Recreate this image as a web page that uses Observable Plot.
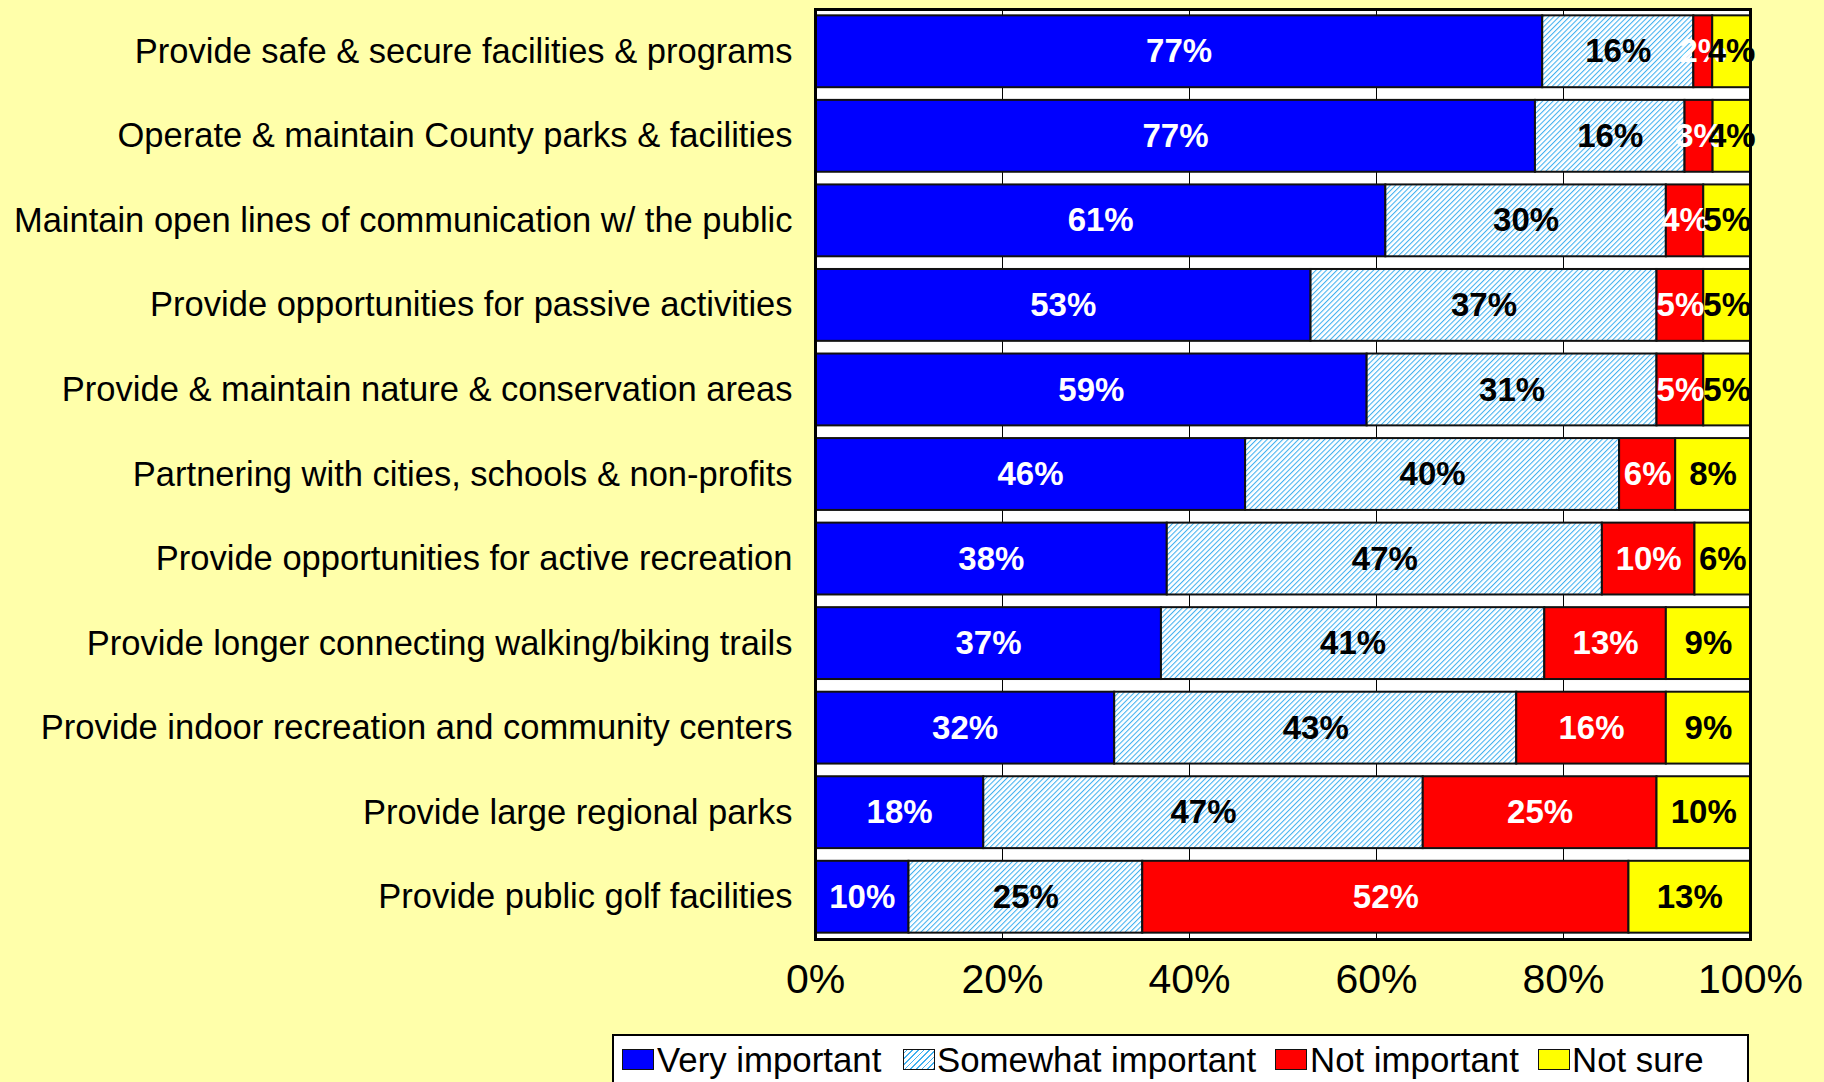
<!DOCTYPE html>
<html>
<head>
<meta charset="utf-8">
<script src="https://cdn.jsdelivr.net/npm/d3@7"></script>
<script src="https://cdn.jsdelivr.net/npm/@observablehq/plot@0.6"></script>
<style>
  html, body { margin: 0; padding: 0; background: #ffffaa; width: 1824px; height: 1082px; overflow: hidden; position: relative; font-family: "Liberation Sans", Arial, Helvetica, sans-serif; }
  #chart svg { display: block; }
  .legend-box { position: absolute; left: 612px; top: 1034px; width: 1133px; height: 70px; background: white; border: 2.5px solid black; }
  .sw { position: absolute; top: 1049px; width: 30px; height: 19px; border: 1.5px solid #111; }
  .lt { position: absolute; top: 1043px; font-size: 34.8px; line-height: 34.8px; color: black; white-space: nowrap; }
</style>
</head>
<body>
<div id="chart"></div>
<script>
const categories = [
  "Provide safe & secure facilities & programs",
  "Operate & maintain County parks & facilities",
  "Maintain open lines of communication w/ the public",
  "Provide opportunities for passive activities",
  "Provide & maintain nature & conservation areas",
  "Partnering with cities, schools & non-profits",
  "Provide opportunities for active recreation",
  "Provide longer connecting walking/biking trails",
  "Provide indoor recreation and community centers",
  "Provide large regional parks",
  "Provide public golf facilities"
];
const seriesNames = ["Very important", "Somewhat important", "Not important", "Not sure"];
const veryImportant     = [77, 77, 61, 53, 59, 46, 38, 37, 32, 18, 10];
const somewhatImportant = [16, 16, 30, 37, 31, 40, 47, 41, 43, 47, 25];
const notImportant      = [ 2,  3,  4,  5,  5,  6, 10, 13, 16, 25, 52];
const notSure           = [ 4,  4,  5,  5,  5,  8,  6,  9,  9, 10, 13];
const xTicks = [0, 0.2, 0.4, 0.6, 0.8, 1];
const seriesColors = ["#0000ff", "url(#hatch)", "#ff0000", "#ffff00"];

const seriesValues = [veryImportant, somewhatImportant, notImportant, notSure];
const data = [];
seriesNames.forEach((s, si) => {
  categories.forEach((c, i) => data.push({category: c, series: s, value: seriesValues[si][i]}));
});

const font = '"Liberation Sans", Arial, Helvetica, sans-serif';

const chart = Plot.plot({
  width: 1824,
  height: 1030,
  marginLeft: 815,
  marginRight: 74,
  marginTop: 9,
  marginBottom: 91,
  style: {background: "transparent", fontFamily: font, overflow: "visible"},
  x: {domain: [0, 1], label: null},
  y: {domain: categories, paddingInner: 0.15, paddingOuter: 0.075, round: false, label: null},
  color: {domain: seriesNames, range: seriesColors},
  marks: [
    Plot.frame({fill: "white"}),
    Plot.gridX(xTicks.slice(1, -1), {stroke: "black", strokeOpacity: 1, strokeWidth: 1}),
    Plot.barX(data, Plot.stackX({
      x: "value", y: "category", fill: "series", z: "series",
      offset: "normalize", order: seriesNames,
      stroke: "#111", strokeWidth: 2, inset: 0
    })),
    Plot.textX(data, Plot.stackX({
      x: "value", y: "category", z: "series",
      offset: "normalize", order: seriesNames,
      text: d => d.value + "%",
      fill: d => (d.series === "Very important" || d.series === "Not important") ? "white" : "black",
      fontSize: 33, fontWeight: "bold"
    })),
    Plot.frame({stroke: "black", strokeWidth: 3}),
    Plot.axisX({ticks: xTicks, tickFormat: d => Math.round(d * 100) + "%", tickSize: 0, tickPadding: 24, fontSize: 41, label: null}),
    Plot.axisY({tickSize: 0, tickPadding: 23, fontSize: 34.5, label: null})
  ]
});

// hatch pattern definition
const svgNS = "http://www.w3.org/2000/svg";
const defs = document.createElementNS(svgNS, "defs");
defs.innerHTML = `<pattern id="hatch" patternUnits="userSpaceOnUse" width="3.7" height="3.7" patternTransform="rotate(45)">
  <rect width="3.7" height="3.7" fill="white"/>
  <line x1="0.5" y1="0" x2="0.5" y2="3.7" stroke="#3fb0f0" stroke-width="1.1"/>
</pattern>`;
chart.insertBefore(defs, chart.firstChild);
document.getElementById("chart").appendChild(chart);

// legend (below the SVG)
const legendItems = [
  {name: seriesNames[0], sw: 622, tx: 657, bg: "#0000ff"},
  {name: seriesNames[1], sw: 903, tx: 937, bg: "repeating-linear-gradient(-45deg, #3fb0f0 0 1px, white 1px 4px)"},
  {name: seriesNames[2], sw: 1275, tx: 1310, bg: "#ff0000"},
  {name: seriesNames[3], sw: 1538, tx: 1572, bg: "#ffff00"}
];
const box = document.createElement("div");
box.className = "legend-box";
document.body.appendChild(box);
legendItems.forEach(it => {
  const s = document.createElement("div");
  s.className = "sw";
  s.style.left = it.sw + "px";
  s.style.background = it.bg;
  document.body.appendChild(s);
  const t = document.createElement("div");
  t.className = "lt";
  t.style.left = it.tx + "px";
  t.textContent = it.name;
  document.body.appendChild(t);
});
</script>
</body>
</html>
